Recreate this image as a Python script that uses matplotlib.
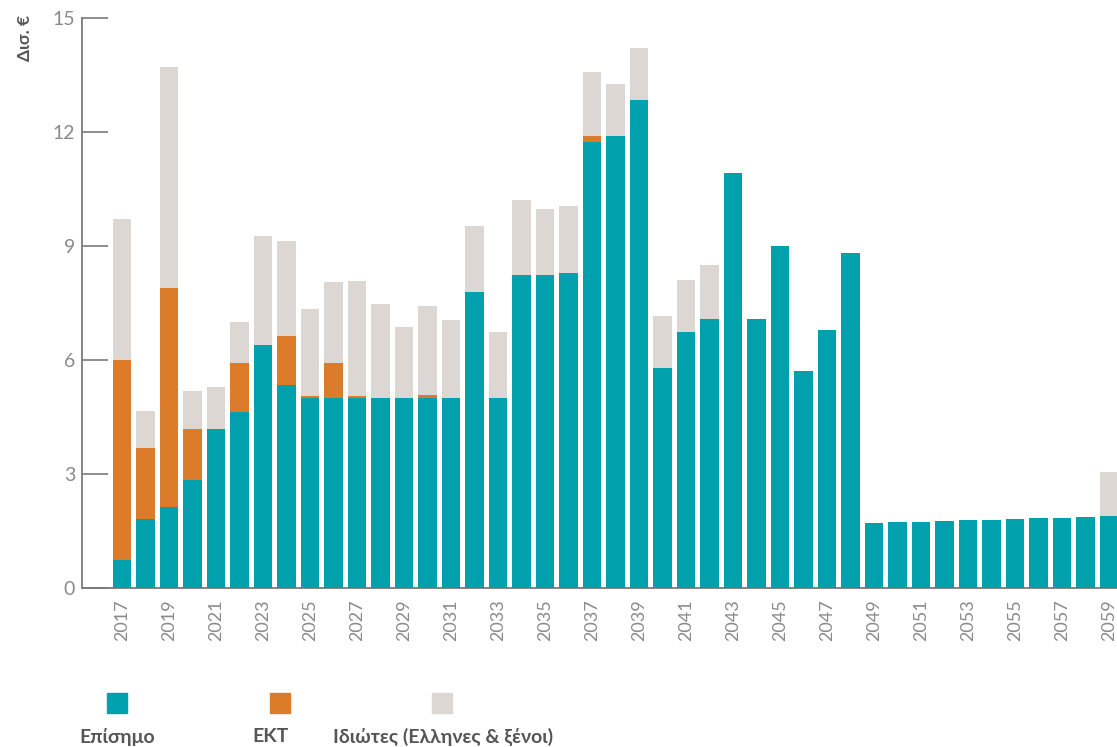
import matplotlib
matplotlib.use("Agg")
import matplotlib.pyplot as plt
import numpy as np

years = list(range(2017, 2060))
official = [0.75, 1.82, 2.14, 2.84, 4.19, 4.64, 6.40, 5.33, 5.01, 5.01, 5.01, 5.01,
            5.01, 5.01, 5.01, 7.80, 5.01, 8.25, 8.25, 8.28, 11.75, 11.90, 12.85,
            5.80, 6.75, 7.09, 10.93, 7.09, 9.01, 5.72, 6.80, 8.82,
            1.72, 1.74, 1.74, 1.77, 1.80, 1.80, 1.82, 1.85, 1.85, 1.88, 1.90]
ecb = [5.26, 1.87, 5.76, 1.35, 0.0, 1.29, 0.0, 1.31, 0.05, 0.92, 0.03, 0.0,
       0.0, 0.07, 0.0, 0.0, 0.0, 0.0, 0.0, 0.0, 0.15, 0.0, 0.0,
       0.0, 0.0, 0.0, 0.0, 0.0, 0.0, 0.0, 0.0, 0.0,
       0.0, 0.0, 0.0, 0.0, 0.0, 0.0, 0.0, 0.0, 0.0, 0.0, 0.0]
private = [3.70, 0.98, 5.82, 1.00, 1.09, 1.08, 2.87, 2.50, 2.29, 2.13, 3.04, 2.47,
           1.87, 2.35, 2.05, 1.73, 1.74, 1.97, 1.73, 1.76, 1.68, 1.37, 1.35,
           1.37, 1.36, 1.42, 0.0, 0.0, 0.0, 0.0, 0.0, 0.0,
           0.0, 0.0, 0.0, 0.0, 0.0, 0.0, 0.0, 0.0, 0.0, 0.0, 1.14]
series_names = ["Επίσημο", "ΕΚΤ", "Ιδιώτες (Ελληνες & ξένοι)"]
y_ticks = [0, 3, 6, 9, 12, 15]

c_off = "#00A0AD"
c_ecb = "#DC7C2A"
c_prv = "#DCD7D3"
grey = "#7a7a7a"
lab_grey = "#8a8a8a"
dark = "#555555"

plt.rcParams['font.family'] = ['Lato', 'DejaVu Sans']

fig = plt.figure(figsize=(11.17, 7.47), dpi=100)
ax = fig.add_axes([82/1117, 1-588/747, 1-82/1117, (588-18)/747])

x = np.arange(len(years))
off = np.array(official)
e = np.array(ecb)
p = np.array(private)
w = 0.77
ax.bar(x, off, width=w, color=c_off, zorder=3)
ax.bar(x, e, width=w, bottom=off, color=c_ecb, zorder=3)
ax.bar(x, p, width=w, bottom=off + e, color=c_prv, zorder=3)

ax.set_xlim((82-122)/23.5, (1117-122)/23.5)
ax.set_ylim(0, 15)
ax.set_yticks(y_ticks)
ax.set_yticklabels([str(t) for t in y_ticks], fontsize=14, color=lab_grey, fontweight='normal')
ax.tick_params(axis='y', direction='in', length=19, width=1.2, color=grey, pad=5)
ax.set_xticks(x[::2])
ax.set_xticklabels([str(y) for y in years[::2]], rotation=90, fontsize=13,
                   color=lab_grey, fontweight='normal')
ax.tick_params(axis='x', length=0, pad=8)

for s in ['top', 'right']:
    ax.spines[s].set_visible(False)
for s in ['left', 'bottom']:
    ax.spines[s].set_color(grey)
    ax.spines[s].set_linewidth(1.3)

fig.text(25/1117, 1-38/747, "Δισ. €", rotation=90, ha='center', va='center',
         fontsize=12.5, fontweight='bold', color=dark)

# legend
sq_x = [117, 280, 442]
lab_x = [117, 270, 443]
cols = [c_off, c_ecb, c_prv]
for sx, lx, c, name in zip(sq_x, lab_x, cols, series_names):
    fig.patches.append(plt.Rectangle(((sx-10)/1117, 1-713/747), 20/1117, 20/747,
                                     transform=fig.transFigure, color=c, figure=fig))
    fig.text(lx/1117, 1-737/747, name, ha='center', va='center', fontsize=14,
             fontweight='bold', color=dark)

fig.savefig("out.png", dpi=100)
